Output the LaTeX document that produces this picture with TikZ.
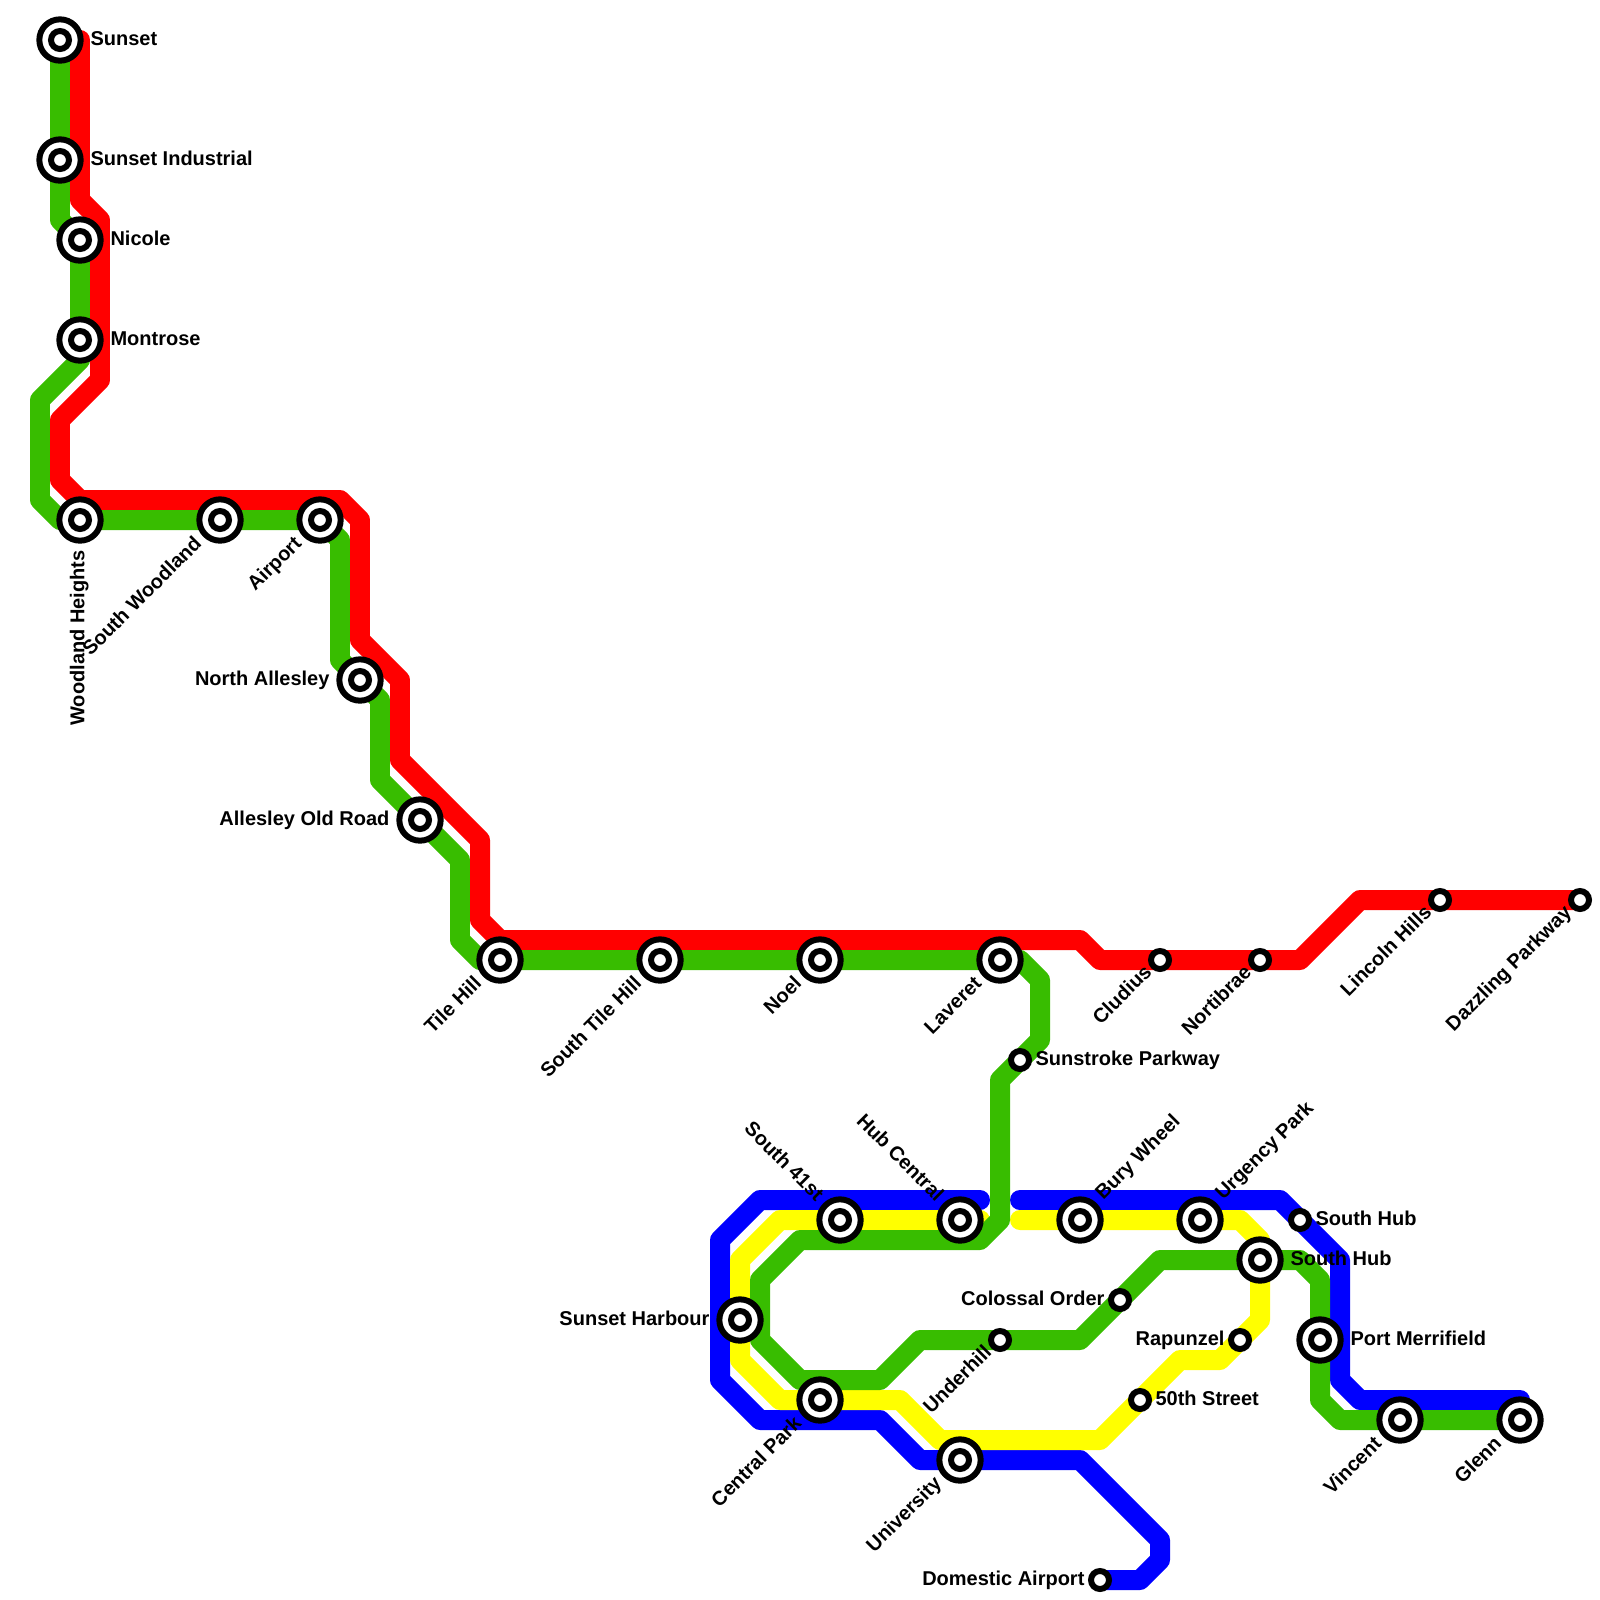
\documentclass[tikz,border=0pt]{standalone}
\usepackage{fontspec}
\setmainfont{Liberation Sans}
\usetikzlibrary{%
	calc,%
	backgrounds,%
}
\definecolor{cred}{RGB}{255, 0, 0}
\definecolor{cgreen}{RGB}{56, 189, 0}
\definecolor{cblue}{RGB}{0, 0, 255}
\definecolor{cyellow}{RGB}{255, 255, 0}
\tikzset{
	metro/.style={%
			line width=7.11pt,%
			line cap=round,%
			line join=round},%
	smallstop/.style={%
			circle,%
			draw,%
			fill=white,%
			inner sep=0,%
			line width=2.13pt,%
			minimum size=6.4pt},%
	bigstop/.style={%
			smallstop,%
			minimum size=14.7pt,%
			path picture={\draw[line width=2.13pt] (path picture bounding box.center) circle (3.2pt);}},%
	stoplabel/.style={%
			inner sep=0,%
			font={\fontsize{7.11}{8.5}\selectfont\bfseries}},%
	labeast/.style={stoplabel, anchor=base west},%
	labwest/.style={stoplabel, anchor=base east},%
	labsw/.style={stoplabel, rotate=45, anchor=base east},%
	labne/.style={stoplabel, rotate=45, anchor=base west},%
	labnw/.style={stoplabel, rotate=-45, anchor=base east},%
	labdown/.style={stoplabel, rotate=90, anchor=base east},%
}
\begin{document}
\begin{tikzpicture}[x=0.25cm, y=-0.25cm]
	\useasboundingbox (0,0) rectangle (80,80);

	\node[bigstop] (sun) at (3,2) {};
	\node[bigstop] (sind) at (3,8) {};
	\node[bigstop] (nic) at (4,12) {};
	\node[bigstop] (mon) at (4,17) {};
	\node[bigstop] (wh) at (4,26) {};
	\node[bigstop] (sw) at (11,26) {};
	\node[bigstop] (air) at (16,26) {};
	\node[bigstop] (na) at (18,34) {};
	\node[bigstop] (aor) at (21,41) {};
	\node[bigstop] (th) at (25,48) {};
	\node[bigstop] (sth) at (33,48) {};
	\node[bigstop] (noel) at (41,48) {};
	\node[bigstop] (lav) at (50,48) {};
	\node[smallstop] (spk) at (51,53) {};
	\node[smallstop] (clu) at (58,48) {};
	\node[smallstop] (nor) at (63,48) {};
	\node[smallstop] (lin) at (72,45) {};
	\node[smallstop] (daz) at (79,45) {};
	\node[bigstop] (sft) at (42,61) {};
	\node[bigstop] (hub) at (48,61) {};
	\node[bigstop] (bw) at (54,61) {};
	\node[bigstop] (urg) at (60,61) {};
	\node[smallstop] (shu) at (65,61) {};
	\node[bigstop] (shd) at (63,63) {};
	\node[bigstop] (pm) at (66,67) {};
	\node[bigstop] (vin) at (70,71) {};
	\node[bigstop] (gl) at (76,71) {};
	\node[bigstop] (shb) at (37,66) {};
	\node[bigstop] (cp) at (41,70) {};
	\node[bigstop] (uni) at (48,73) {};
	\node[smallstop] (dom) at (55,79) {};
	\node[smallstop] (col) at (56,65) {};
	\node[smallstop] (und) at (50,67) {};
	\node[smallstop] (rap) at (62,67) {};
	\node[smallstop] (fif) at (57,70) {};

	\coordinate (redtop) at (4,2);
	\coordinate (bluehub) at (49,60);
	\coordinate (bluebw) at (51,60);
	\coordinate (blueglenn) at (76,70);
	\coordinate (yellowhub) at (49,61);
	\coordinate (yellowbw) at (51,61);

	\begin{scope}[on background layer]
		\draw[metro, cblue] (bluehub) -- (38,60) -- (36,62) -- (36,69) -- (38,71) -- (44,71) -- (46,73) -- (uni.center) -- (54,73) -- (58,77) -- (58,78) -- (57,79) -- (dom.center);
		\draw[metro, cblue] (bluebw) -- (64,60) -- (shu.center) -- (67,63) -- (67,69) -- (68,70) -- (blueglenn);
		\draw[metro, cyellow] (yellowbw) -- (bw.center) -- (urg.center) -- (62,61) -- (63,62) -- (shd.center) -- (63,66) -- (rap.center) -- (61,68) -- (59,68) -- (fif.center) -- (55,72) -- (47,72) -- (45,70) -- (cp.center) -- (39,70) -- (37,68) -- (shb.center) -- (37,63) -- (39,61) -- (sft.center) -- (hub.center) -- (yellowhub);
		\draw[metro, cred] (redtop) -- (4,10) -- (5,11) -- (5,19) -- (3,21) -- (3,24) -- (4,25) -- (17,25) -- (18,26) -- (18,32) -- (20,34) -- (20,38) -- (24,42) -- (24,46) -- (25,47) -- (54,47) -- (55,48) -- (clu.center) -- (nor.center) -- (65,48) -- (68,45) -- (lin.center) -- (daz.center);
		\draw[metro, cgreen] (sun.center) -- (sind.center) -- (3,11) -- (nic.center) -- (mon.center) -- (4,18) -- (2,20) -- (2,25) -- (3,26) -- (wh.center) -- (sw.center) -- (air.center) -- (17,27) -- (17,33) -- (na.center) -- (19,35) -- (19,39) -- (aor.center) -- (23,43) -- (23,47) -- (24,48) -- (th.center) -- (sth.center) -- (noel.center) -- (lav.center) -- (51,48) -- (52,49) -- (52,52) -- (spk.center) -- (50,54) -- (50,61) -- (49,62) -- (40,62) -- (38,64) -- (38,67) -- (40,69) -- (44,69) -- (46,67) -- (und.center) -- (54,67) -- (col.center) -- (58,63) -- (shd.center) -- (65,63) -- (66,64) -- (pm.center) -- (66,70) -- (67,71) -- (vin.center) -- (gl.center);
	\end{scope}

	\node[labeast] (sunlab) at ($(sun)+(1.5,0.25)$) {Sunset};
	\node[labeast] (sindlab) at ($(sind)+(1.5,0.25)$) {Sunset Industrial};
	\node[labeast] (niclab) at ($(nic)+(1.5,0.25)$) {Nicole};
	\node[labeast] (monlab) at ($(mon)+(1.5,0.25)$) {Montrose};
	\node[labeast] (shdlab) at ($(shd)+(1.5,0.25)$) {South Hub};
	\node[labeast] (pmlab) at ($(pm)+(1.5,0.25)$) {Port Merrifield};
	\node[labeast] (spklab) at ($(spk)+(0.75,0.25)$) {Sunstroke Parkway};
	\node[labeast] (shulab) at ($(shu)+(0.75,0.25)$) {South Hub};
	\node[labeast] (fiflab) at ($(fif)+(0.75,0.25)$) {50th Street};

	\node[labwest] (nalab) at ($(na)+(-1.5,0.25)$) {North Allesley};
	\node[labwest] (aorlab) at ($(aor)+(-1.5,0.25)$) {Allesley Old Road};
	\node[labwest] (shblab) at ($(shb)+(-1.5,0.25)$) {Sunset Harbour};
	\node[labwest] (collab) at ($(col)+(-0.75,0.25)$) {Colossal Order};
	\node[labwest] (raplab) at ($(rap)+(-0.75,0.25)$) {Rapunzel};
	\node[labwest] (domlab) at ($(dom)+(-0.75,0.25)$) {Domestic Airport};

	\node[labdown] (whlab) at ($(wh)+(0.22,1.5)$) {Woodland Heights};

	\node[labsw] (swlab) at ($(sw)+(-0.85,1.22)$) {South Woodland};
	\node[labsw] (airlab) at ($(air)+(-0.85,1.22)$) {Airport};
	\node[labsw] (thlab) at ($(th)+(-0.85,1.22)$) {Tile Hill};
	\node[labsw] (sthlab) at ($(sth)+(-0.85,1.22)$) {South Tile Hill};
	\node[labsw] (noellab) at ($(noel)+(-0.85,1.22)$) {Noel};
	\node[labsw] (lavlab) at ($(lav)+(-0.85,1.22)$) {Laveret};
	\node[labsw] (cplab) at ($(cp)+(-0.85,1.22)$) {Central Park};
	\node[labsw] (unilab) at ($(uni)+(-0.85,1.22)$) {University};
	\node[labsw] (vinlab) at ($(vin)+(-0.85,1.22)$) {Vincent};
	\node[labsw] (gllab) at ($(gl)+(-0.85,1.22)$) {Glenn};
	\node[labsw] (clulab) at ($(clu)+(-0.35,0.65)$) {Cludius};
	\node[labsw] (norlab) at ($(nor)+(-0.35,0.65)$) {Nortibrae};
	\node[labsw] (linlab) at ($(lin)+(-0.35,0.65)$) {Lincoln Hills};
	\node[labsw] (dazlab) at ($(daz)+(-0.35,0.65)$) {Dazzling Parkway};
	\node[labsw] (undlab) at ($(und)+(-0.35,0.65)$) {Underhill};

	\node[labne] (bwlab) at ($(bw)+(1.15,-0.95)$) {Bury Wheel};
	\node[labne] (urglab) at ($(urg)+(1.15,-0.95)$) {Urgency Park};
	\node[labnw] (sftlab) at ($(sft)+(-1.2,-0.87)$) {South 41st};
	\node[labnw] (hublab) at ($(hub)+(-1.2,-0.87)$) {Hub Central};
\end{tikzpicture}
\end{document}
